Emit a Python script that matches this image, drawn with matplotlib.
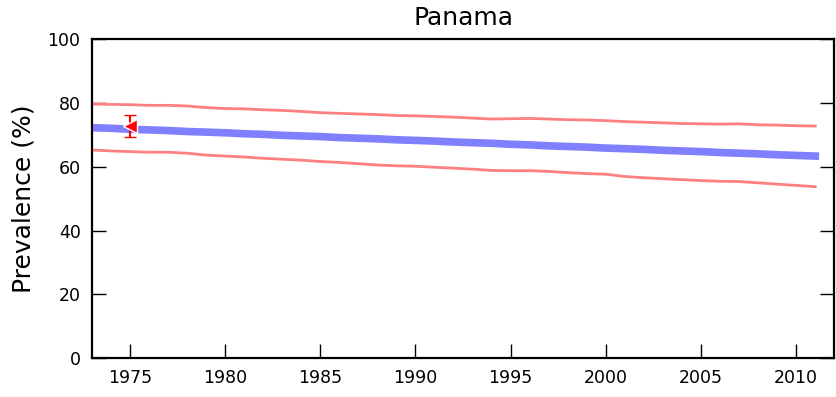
import numpy as np
import matplotlib
matplotlib.use('Agg')
import matplotlib.pyplot as plt

# Datos
years = np.arange(1973, 2012)

upper = [79.7, 79.6, 79.5, 79.3, 79.3, 79.1, 78.6, 78.3, 78.2, 77.9,
         77.7, 77.4, 77.0, 76.8, 76.6, 76.4, 76.1, 76.0, 75.8, 75.6,
         75.3, 75.0, 75.1, 75.2, 75.0, 74.8, 74.7, 74.5, 74.2, 74.0,
         73.8, 73.6, 73.5, 73.4, 73.5, 73.2, 73.1, 72.9, 72.8]

lower = [65.3, 65.0, 64.8, 64.6, 64.6, 64.3, 63.7, 63.4, 63.1, 62.7,
         62.4, 62.1, 61.7, 61.4, 61.0, 60.6, 60.35, 60.2, 59.9, 59.6,
         59.3, 58.9, 58.8, 58.8, 58.6, 58.2, 57.9, 57.7, 57.0, 56.6,
         56.3, 56.0, 55.7, 55.5, 55.4, 55.0, 54.6, 54.2, 53.8]

mean = [72.3, 72.1, 71.8, 71.6, 71.4, 71.1, 70.9, 70.7, 70.4, 70.2,
        69.9, 69.7, 69.5, 69.2, 69.0, 68.8, 68.5, 68.3, 68.1, 67.8,
        67.6, 67.4, 67.1, 66.9, 66.6, 66.4, 66.2, 65.9, 65.7, 65.5,
        65.2, 65.0, 64.8, 64.5, 64.3, 64.1, 63.8, 63.6, 63.4]

# Observacion con intervalo
obs_year = [1975]
obs_val = [72.9]
obs_lo = [69.5]
obs_hi = [76.3]

fig = plt.figure(figsize=(8.37, 3.97), dpi=100)
ax = fig.add_axes([0.1096, 0.0975, 0.8872, 0.8035])

ax.plot(years, mean, color='#8080ff', linewidth=5.5)
ax.plot(years, upper, color='#ff8080', linewidth=2)
ax.plot(years, lower, color='#ff8080', linewidth=2)

yerr = [np.array(obs_val) - np.array(obs_lo), np.array(obs_hi) - np.array(obs_val)]
ax.errorbar(obs_year, obs_val, yerr=yerr, fmt='<', color='red',
            markersize=10, markeredgecolor='white', markeredgewidth=1,
            ecolor='red', elinewidth=1.5, capsize=4.5, capthick=1.5)

# Ejes
ax.set_xlim(1973, 2012)
ax.set_ylim(0, 100)
ax.set_xticks(np.arange(1975, 2011, 5))
ax.set_yticks(np.arange(0, 101, 20))
ax.tick_params(direction='in', length=10, width=1, labelsize=12.5,
               top=False, right=True, pad=8)
for s in ax.spines.values():
    s.set_linewidth(1.6)

ax.set_ylabel('Prevalence (%)', fontsize=18, labelpad=9)
ax.set_title('Panama', fontsize=18, pad=10)

plt.savefig('out.png', dpi=100)
